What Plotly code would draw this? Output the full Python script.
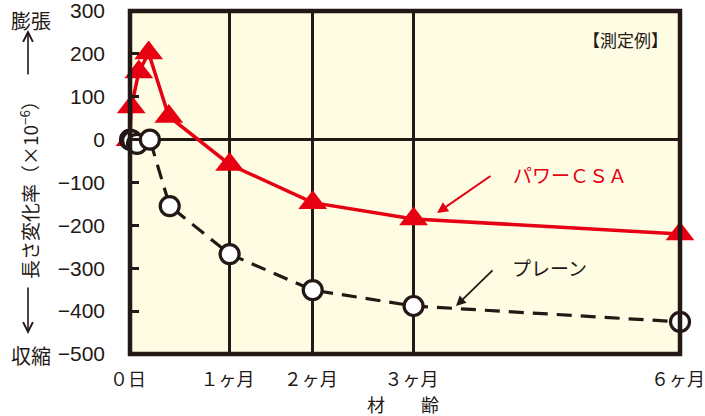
import plotly.graph_objects as go

# ---- data (age in days, length change ×10^-6) ----
csa_days = [0, 0.4, 2.9, 6.1, 12.7, 32.6, 59.8, 92.8, 180]
csa_vals = [0, 76, 158, 202, 54, -58, -147, -185, -220]

plain_days = [0, 0.7, 2.3, 6.5, 13.0, 32.6, 59.8, 92.8, 180]
plain_vals = [0, -2, -10, 0, -155, -267, -351, -388, -425]

tick_days = [0, 32.6, 59.8, 92.8, 180]
tick_text = ["０日", "１ヶ月", "２ヶ月", "３ヶ月", "６ヶ月"]
y_ticks = [300, 200, 100, 0, -100, -200, -300, -400, -500]

RED = "#E60012"
INK = "#231815"
BG = "#FEFCE3"
JP = "Noto Sans CJK JP"
NUM = "Liberation Sans Narrow, Liberation Sans, Arial"

W, H = 705, 416
L, R, T, B = 130, 25, 11, 62
PW, PH = W - L - R, H - T - B


def px(x):
    return (x - L) / PW


def py(y):
    return (H - B - y) / PH


fig = go.Figure()
fig.add_trace(go.Scatter(
    x=csa_days, y=csa_vals, mode="lines+markers",
    line=dict(color=RED, width=3.5),
    marker=dict(symbol="triangle-up", size=25, color=RED, line=dict(width=0)),
    cliponaxis=False, showlegend=False))
fig.add_trace(go.Scatter(
    x=plain_days, y=plain_vals, mode="lines+markers",
    line=dict(color=INK, width=3.2, dash="15px,9px"),
    marker=dict(symbol="circle", size=19, color="white", line=dict(color=INK, width=3.2)),
    cliponaxis=False, showlegend=False))

fig.update_layout(
    width=W, height=H,
    margin=dict(l=L, r=R, t=T, b=B, pad=0),
    paper_bgcolor="white", plot_bgcolor=BG,
    xaxis=dict(range=[0, 180], tickvals=tick_days, ticktext=tick_text,
               showgrid=True, gridcolor=INK, gridwidth=3, zeroline=False,
               ticks="", showline=False, ticklabelstandoff=13,
               ticklabelshift=-2,
               automargin=False, ticklabeloverflow="allow",
               tickfont=dict(family=JP, size=18, color=INK)),
    yaxis=dict(range=[-500, 300], tickvals=y_ticks, showgrid=False,
               zeroline=True, zerolinecolor=INK, zerolinewidth=3,
               ticks="inside", ticklen=9, tickwidth=3, tickcolor=INK,
               showline=False, ticklabelstandoff=24,
               automargin=False, ticklabeloverflow="allow",
               tickfont=dict(family=NUM, size=21, color=INK)),
    shapes=[dict(type="rect", xref="paper", yref="paper", x0=0, x1=1, y0=0, y1=1,
                 line=dict(color=INK, width=4.5), layer="above")],
)


def label(text, x, y, size, color=INK, **kw):
    return dict(text=text, x=px(x), y=py(y), xref="paper", yref="paper",
                xanchor="center", yanchor="middle", showarrow=False,
                font=dict(family=JP, size=size, color=color), **kw)


def arrow(hx, hy, tx, ty, color, head, width, size):
    return dict(text="", x=px(hx), y=py(hy), xref="paper", yref="paper",
                ax=tx - hx, ay=ty - hy, axref="pixel", ayref="pixel",
                showarrow=True, arrowhead=head, arrowsize=size, arrowwidth=width,
                arrowcolor=color)


ann = [
    label("【測定例】", 625, 40, 17),
    label("パワーＣＳＡ", 570, 174, 19, RED),
    arrow(437, 213, 492, 175, RED, 2, 2, 1.1),
    label("プレーン", 549, 267, 19),
    arrow(456, 306, 494, 269, INK, 2, 1.8, 1.1),
    label("材　　齢", 403, 404, 18),
    label("膨張", 31, 20, 20),
    label("収縮", 31, 355, 20),
    label("長さ変化率（×10<sup>−6</sup>）", 29, 185, 19, textangle=-90),
    arrow(28, 30, 28, 76, INK, 5, 1.6, 1.2),
    arrow(28, 334, 28, 286, INK, 5, 1.6, 1.2),
]
fig.update_layout(annotations=ann)

fig.write_html("out.html", config={"displayModeBar": False},
               post_script="document.body.style.margin='0';document.body.style.overflow='hidden';")
